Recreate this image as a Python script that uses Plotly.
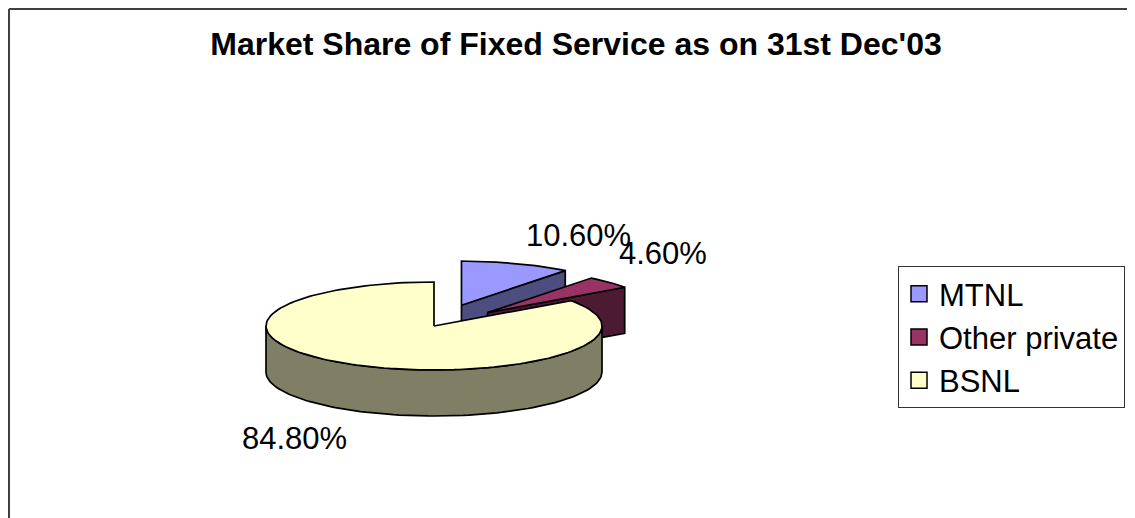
import math
import plotly.graph_objects as go

# ---- data ----
categories = ["MTNL", "Other private", "BSNL"]
shares = [10.6, 4.6, 84.8]
label_texts = ["10.60%", "4.60%", "84.80%"]
title_text = "Market Share of Fixed Service as on 31st Dec'03"

# ---- style ----
top_colors = ["#9999FF", "#993366", "#FFFFCC"]
side_colors = ["#4D4D80", "#4D1A33", "#7F7F66"]
explode = [0.5, 0.44, 0.0]
FONT = "Liberation Sans, Arial, sans-serif"
PAGE_W, PAGE_H = 1135, 518
OFF = 8  # browser body margin
W, H = PAGE_W - OFF, PAGE_H - OFF
CX, CY, RX, RY, DEPTH = 434, 326, 168, 44, 46


def px_x(x):
    return (x - OFF) / W


def px_y(y):
    return 1 - (y - OFF) / H


def P(cx, cy, ang, dz=0.0):
    r = math.radians(ang)
    return cx + RX * math.cos(r), cy - RY * math.sin(r) + dz


def arc(cx, cy, a0, a1, dz=0.0):
    n = max(2, int(abs(a1 - a0) / 2) + 1)
    return [P(cx, cy, a0 + (a1 - a0) * i / (n - 1), dz) for i in range(n)]


fig = go.Figure()
total = sum(shares)
start = 90.0
slices = []
for i, v in enumerate(shares):
    sweep = 360.0 * v / total
    t0, t1 = start - sweep, start
    start = t0
    mid = math.radians((t0 + t1) / 2)
    ex = CX + explode[i] * RX * math.cos(mid)
    ey = CY - explode[i] * RY * math.sin(mid)
    slices.append(dict(i=i, t0=t0, t1=t1, mid=mid, ex=ex, ey=ey))


def add_poly(pts, color):
    xs = [p[0] for p in pts] + [pts[0][0]]
    ys = [p[1] for p in pts] + [pts[0][1]]
    fig.add_trace(go.Scatter(x=xs, y=ys, mode="lines", fill="toself",
                             fillcolor=color, line=dict(color="black", width=1.7),
                             hoverinfo="skip", showlegend=False))


for s in sorted(slices, key=lambda s: -math.sin(s["mid"])):
    i, t0, t1, ex, ey = s["i"], s["t0"], s["t1"], s["ex"], s["ey"]
    side = side_colors[i]
    # radial faces
    for ang, vis in ((t0, math.cos(math.radians(t0)) > 1e-9),
                     (t1, math.cos(math.radians(t1)) < -1e-9)):
        if vis:
            o = P(ex, ey, ang)
            ob = P(ex, ey, ang, DEPTH)
            add_poly([(ex, ey), o, ob, (ex, ey + DEPTH)], side)
    # outer front wall
    for lo, hi in ((-540, -360), (-180, 0), (180, 360)):
        a0, a1 = max(t0, lo), min(t1, hi)
        if a1 > a0:
            topa = arc(ex, ey, a0, a1)
            bota = arc(ex, ey, a1, a0, DEPTH)
            add_poly(topa + bota, side)
    # top face
    add_poly([(ex, ey)] + arc(ex, ey, t1, t0), top_colors[i])

# data labels
for s in slices:
    i = s["i"]
    c, sn = math.cos(s["mid"]), math.sin(s["mid"])
    ox = s["ex"] + RX * c
    oy = s["ey"] - RY * sn + (DEPTH if sn < 0 else 0)
    fig.add_annotation(x=ox + (8 if c > 0 else -8), y=oy + (-9 if sn > 0 else 8),
                       xref="x", yref="y", text=label_texts[i], showarrow=False,
                       xanchor="left" if c > 0 else "right",
                       yanchor="bottom" if sn > 0 else "top",
                       font=dict(family=FONT, size=31, color="black"))

# legend entries
for i, name in enumerate(categories):
    fig.add_trace(go.Scatter(x=[None], y=[None], mode="markers", name=name,
                             legendgroup=name,
                             marker=dict(symbol="square", size=16, color=top_colors[i],
                                         line=dict(color="black", width=1.5))))

fig.add_shape(type="line", xref="x", yref="y", x0=9, y0=9, x1=9, y1=PAGE_H,
              line=dict(color="#404040", width=2))
fig.add_shape(type="line", xref="x", yref="y", x0=9, y0=9, x1=PAGE_W, y1=9,
              line=dict(color="#404040", width=2))

fig.update_layout(
    width=W, height=H,
    margin=dict(l=0, r=0, t=0, b=0),
    paper_bgcolor="white", plot_bgcolor="white",
    title=dict(text="<b>" + title_text + "</b>", x=px_x(576), xanchor="center",
               y=px_y(44), yanchor="middle",
               font=dict(family=FONT, size=32, color="black")),
    xaxis=dict(range=[OFF, PAGE_W], visible=False, fixedrange=True),
    yaxis=dict(range=[PAGE_H, OFF], visible=False, fixedrange=True),
    legend=dict(x=px_x(898), y=px_y(266), xanchor="left", yanchor="top",
                bgcolor="white", bordercolor="#333333", borderwidth=1,
                font=dict(family=FONT, size=31, color="black"),
                tracegroupgap=0, itemclick=False, itemdoubleclick=False),
    showlegend=True,
)

fig.write_html("out.html")
